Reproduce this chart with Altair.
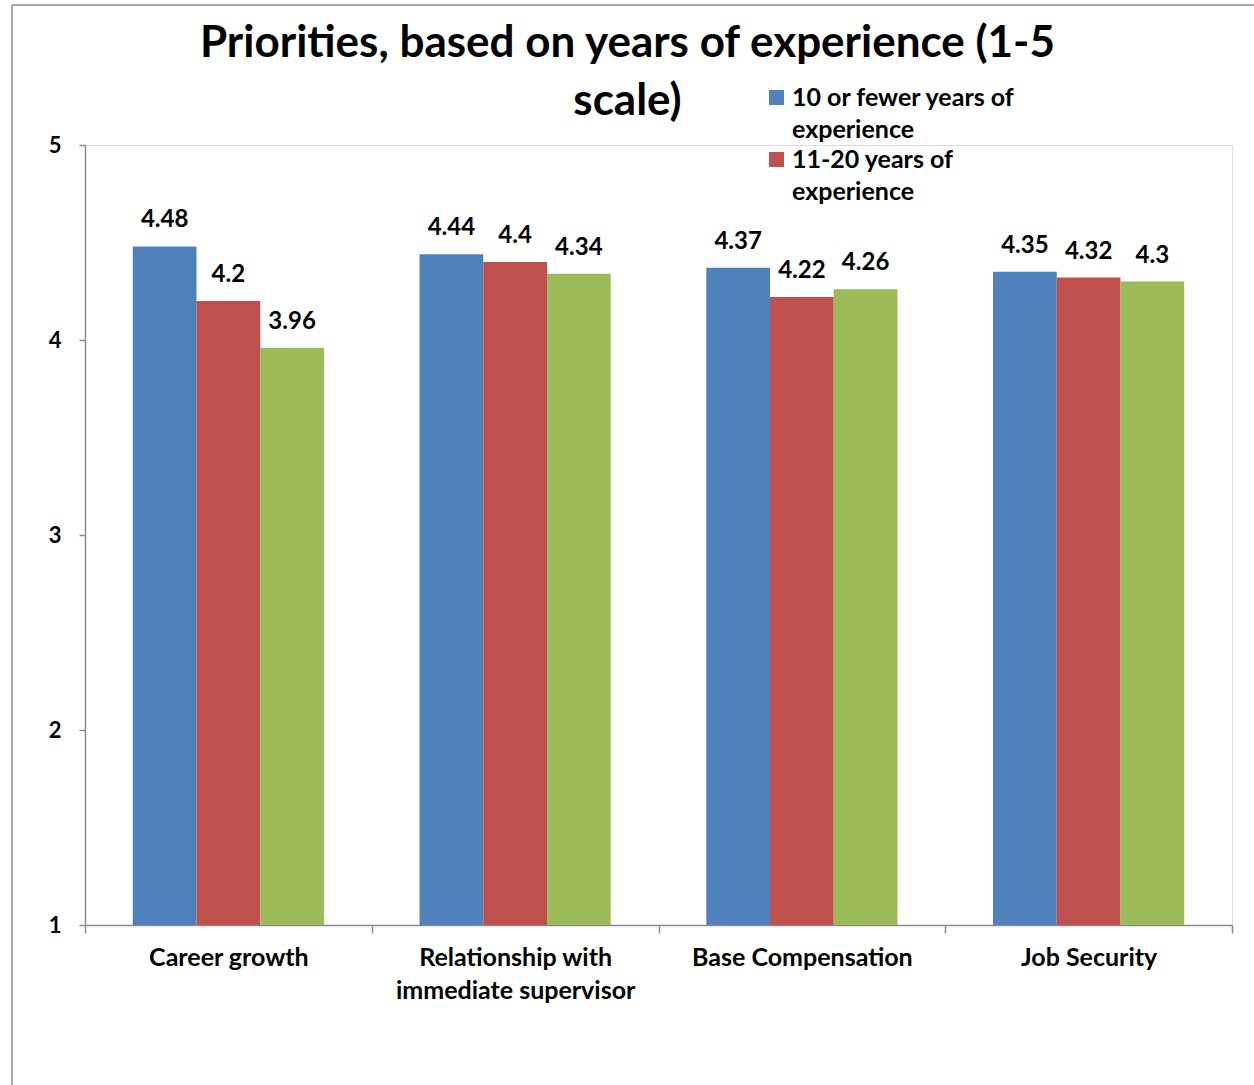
import altair as alt
import pandas as pd

categories = ["Career growth", "Relationship with|immediate supervisor", "Base Compensation", "Job Security"]
series = ["10 or fewer years of|experience", "11-20 years of|experience", "More than 20 years of|experience"]
values_s1 = [4.48, 4.44, 4.37, 4.35]
values_s2 = [4.2, 4.4, 4.22, 4.32]
values_s3 = [3.96, 4.34, 4.26, 4.3]
colors = ["#4F81BD", "#C0504D", "#9BBB59"]

rows = []
for s, vals in zip(series, [values_s1, values_s2, values_s3]):
    for c, v in zip(categories, vals):
        rows.append({"category": c, "series": s, "value": v})
df = pd.DataFrame(rows)

FONT = "Lato"

x = alt.X("category:N", sort=categories, title=None,
          scale=alt.Scale(paddingInner=0, paddingOuter=0),
          axis=alt.Axis(labelAngle=0, tickBand="extent", labelFontSize=25, labelFontWeight="bold",
                        labelFont=FONT, labelColor="black", labelPadding=12, tickSize=8,
                        labelLineHeight=33, labelExpr="split(datum.label, '|')", labelLimit=500,
                        domainColor="#8c8c8c", tickColor="#8c8c8c", domainWidth=1.5, tickWidth=1.5))
xo = alt.XOffset("series:N", sort=series, scale=alt.Scale(paddingInner=0, paddingOuter=0.75))
y = alt.Y("value:Q", title=None,
          scale=alt.Scale(domain=[1, 5], zero=False, nice=False),
          axis=alt.Axis(values=[1, 2, 3, 4, 5], grid=False, labelFontSize=22, labelFontWeight="bold",
                        labelFont=FONT, labelColor="black", labelPadding=18, tickSize=6,
                        domainColor="#8c8c8c", tickColor="#8c8c8c", domainWidth=1.5, tickWidth=1.5))

bars = alt.Chart(df).mark_bar().encode(
    x=x, xOffset=xo, y=y, y2=alt.datum(1),
    color=alt.Color("series:N", sort=series,
                    scale=alt.Scale(domain=series, range=colors),
                    legend=alt.Legend(title=None, values=series[:2], orient="none",
                                      legendX=679, legendY=-60, symbolType="square",
                                      symbolSize=225, symbolStrokeWidth=0, symbolOpacity=1,
                                      labelFontSize=25, labelFontWeight="bold", labelFont=FONT,
                                      labelColor="black", labelExpr="split(datum.label, '|')",
                                      labelLimit=400, rowPadding=4, labelOffset=3)),
)

labels = alt.Chart(df).mark_text(fontSize=24, fontWeight="bold", font=FONT, color="black",
                                 baseline="alphabetic", dy=-19).encode(
    x=x, xOffset=xo, y=y, text=alt.Text("value:Q")
)

border_top = alt.Chart(alt.Data(values=[{}])).mark_rule(color="#8c8c8c", strokeWidth=1.5).encode(
    x=alt.value(-73), x2=alt.value(1200), y=alt.value(-140))
border_left = alt.Chart(alt.Data(values=[{}])).mark_rule(color="#8c8c8c", strokeWidth=1.5).encode(
    x=alt.value(-73), y=alt.value(-140), y2=alt.value(1000))

chart = alt.layer(bars, labels, border_top, border_left).properties(
    width=1147, height=780,
    title=alt.Title(["Priorities, based on years of experience (1-5", "scale)"],
                    fontSize=44, fontWeight="bold", font=FONT, color="black",
                    anchor="middle", dx=-31, offset=-120, lineHeight=58),
    autosize=alt.AutoSizeParams(type="none"),
    padding={"left": 85, "top": 145, "right": 22, "bottom": 160},
).configure_view(stroke=None).configure(
    background="white", style={"guide-label": {"lineHeight": 32}}
)

chart.save("out.html", embed_options={"renderer": "svg", "actions": False})
